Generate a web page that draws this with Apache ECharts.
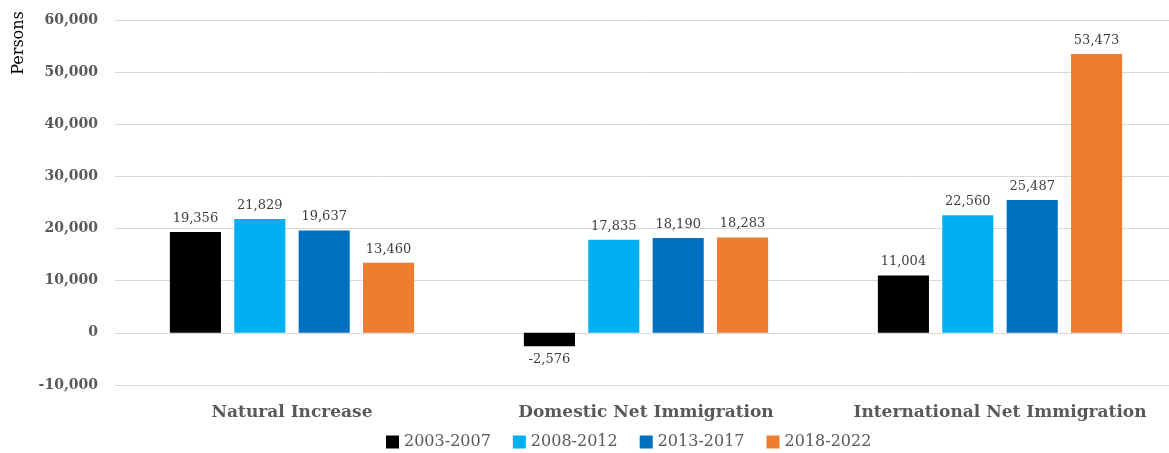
<!DOCTYPE html>
<html>
<head>
<meta charset="utf-8">
<script src="https://cdn.jsdelivr.net/npm/echarts@6/dist/echarts.min.js"></script>
<style>
  html, body { margin: 0; padding: 0; background: #fff; }
  #main { width: 1169px; height: 453px; }
</style>
</head>
<body>
<div id="main"></div>
<script>
// components of population change, by period
var categories = ['Natural Increase', 'Domestic Net Immigration', 'International Net Immigration'];
var periods = ['2003-2007', '2008-2012', '2013-2017', '2018-2022'];
var p2003 = [19356, -2576, 11004];
var p2008 = [21829, 17835, 22560];
var p2013 = [19637, 18190, 25487];
var p2018 = [13460, 18283, 53473];
var colors = ['#000000', '#00B0F0', '#0070C0', '#ED7D31'];

var serif = '"DejaVu Serif", "Liberation Serif", serif';
var myChart = echarts.init(document.getElementById('main'));

function fmt(v) {
  return v.toLocaleString('en-US');
}

var seriesData = [p2003, p2008, p2013, p2018];
var series = [];
for (var i = 0; i < periods.length; i++) {
  series.push({
    name: periods[i],
    type: 'bar',
    barGap: '26%',
    barCategoryGap: '31%',
    data: seriesData[i],
    itemStyle: { color: colors[i] },
    label: {
      show: true,
      position: 'top',
      distance: 7,
      color: '#404040',
      fontFamily: serif,
      fontSize: 13,
      formatter: function (p) { return fmt(p.value); }
    }
  });
}
// negative value: label goes under the bar
series[0].data = p2003.map(function (v) {
  return v < 0 ? { value: v, label: { position: 'bottom' } } : v;
});

myChart.setOption({
  animation: false,
  color: colors,
  grid: {
    left: 115,
    width: 1062,
    top: 20,
    bottom: 68,
    outerBoundsMode: 'none'
  },
  legend: {
    bottom: -2,
    left: 381,
    itemWidth: 13,
    itemHeight: 13,
    itemGap: 22,
    icon: 'rect',
    textStyle: { color: '#595959', fontFamily: serif, fontSize: 16 },
    data: periods
  },
  graphic: [{
    type: 'text',
    x: 19,
    y: 43,
    rotation: Math.PI / 2,
    style: {
      text: 'Persons',
      fill: '#000',
      font: '16px ' + serif,
      align: 'center',
      verticalAlign: 'middle'
    }
  }],
  xAxis: {
    type: 'category',
    data: categories,
    axisLine: { show: false },
    axisTick: { show: false },
    axisLabel: {
      interval: 0,
      hideOverlap: false,
      color: '#595959',
      fontFamily: serif,
      fontWeight: 'bold',
      fontSize: 17,
      margin: 19
    }
  },
  yAxis: {
    type: 'value',
    min: -10000,
    max: 60000,
    interval: 10000,
    axisLine: { show: false },
    axisTick: { show: false },
    splitLine: { lineStyle: { color: '#D9D9D9', width: 1 } },
    axisLabel: {
      color: '#595959',
      fontFamily: serif,
      fontWeight: 'bold',
      fontSize: 14,
      margin: 17,
      formatter: function (v) { return fmt(v); }
    }
  },
  series: series
});
</script>
</body>
</html>
